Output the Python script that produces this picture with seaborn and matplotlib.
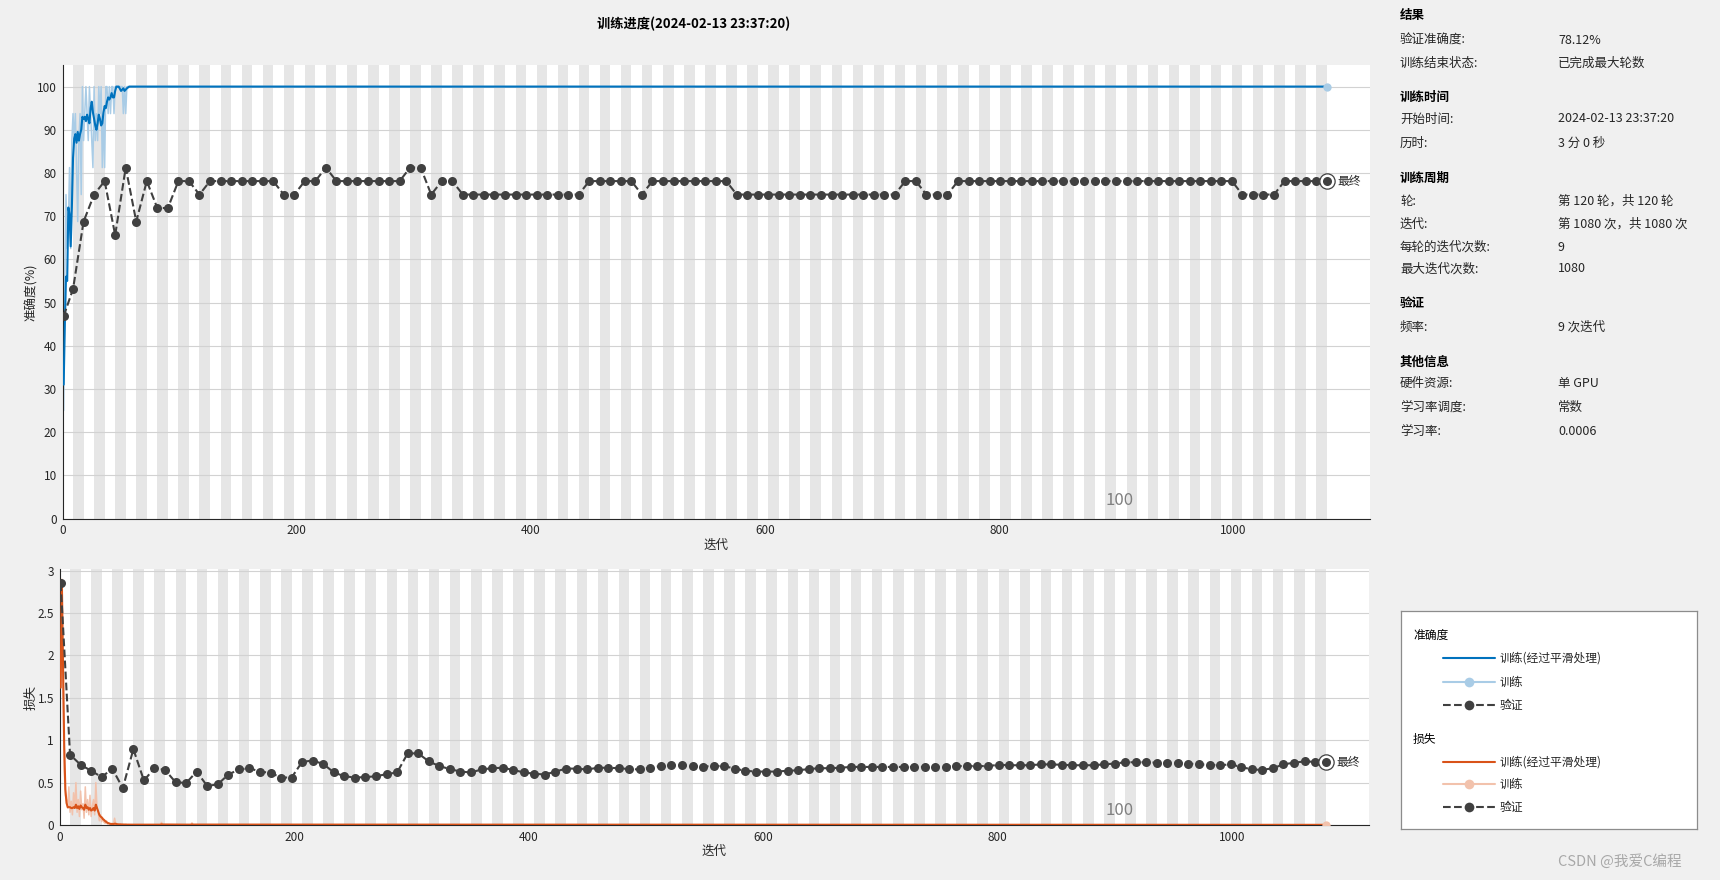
import numpy as np
import pandas as pd
import matplotlib
matplotlib.use('Agg')
import matplotlib.pyplot as plt
import seaborn as sns

# ---- data ----
iters_per_epoch = 9
n_epochs = 120

# training accuracy (%), iterations 1..64, then the flat tail end point
acc_iter = list(range(1, 65)) + [1080]
acc_raw = [25.0, 56.25, 75.0, 62.5, 68.75, 81.25, 62.5, 87.5, 93.75, 87.5,
           93.75, 81.25, 68.75, 87.5, 93.75, 75.0, 100.0, 87.5, 93.75, 100.0,
           93.75, 87.5, 100.0, 93.75, 87.5, 81.25, 100.0, 87.5, 93.75, 87.5,
           100.0, 93.75, 100.0, 81.25, 93.75, 81.25, 100.0, 100.0, 93.75, 100.0,
           93.75, 100.0, 100.0, 93.75, 100.0, 100.0, 100.0, 100.0, 100.0, 100.0,
           100.0, 93.75, 100.0, 93.75, 100.0, 100.0, 100.0, 100.0, 100.0, 100.0,
           100.0, 100.0, 100.0, 100.0, 100.0]
acc_smooth = [31.0, 45.0, 56.0, 55.0, 72.0, 70.5, 63.0, 72.0, 83.5, 88.0,
              89.0, 87.0, 89.5, 87.5, 89.0, 90.0, 93.0, 92.5, 93.0, 92.0,
              93.5, 92.5, 91.5, 95.0, 96.5, 94.0, 92.5, 91.0, 90.0, 91.5,
              93.5, 92.5, 91.0, 91.5, 94.0, 95.5, 95.0, 96.5, 97.5, 97.0,
              97.5, 98.5, 97.5, 97.5, 99.0, 100.0, 100.0, 100.0, 99.5, 99.0,
              99.3, 99.6, 99.0, 99.3, 99.6, 99.8, 100.0, 100.0, 100.0, 100.0,
              100.0, 100.0, 100.0, 100.0, 100.0]

# training loss, iterations 1..64, a few small spikes, then the end point
loss_iter = list(range(1, 65)) + [86, 87, 88, 112, 113, 114, 1080]
loss_raw = [1.62, 2.9, 1.6, 0.65, 0.35, 0.3, 0.2, 0.45, 0.15, 0.28,
            0.12, 0.38, 0.2, 0.5, 0.15, 0.3, 0.1, 0.4, 0.18, 0.25,
            0.08, 0.45, 0.15, 0.3, 0.12, 0.35, 0.1, 0.22, 0.3, 0.12,
            0.5, 0.2, 0.15, 0.05, 0.12, 0.04, 0.08, 0.03, 0.02, 0.05,
            0.01, 0.02, 0.01, 0.01, 0.02, 0.005, 0.08, 0.01, 0.005, 0.006,
            0.004, 0.01, 0.004, 0.005, 0.003, 0.006, 0.004, 0.003, 0.005, 0.003,
            0.004, 0.003, 0.003, 0.003,
            0.003, 0.03, 0.003, 0.003, 0.025, 0.003, 0.002]
loss_smooth = [1.62, 2.88, 1.9, 0.95, 0.42, 0.26, 0.21, 0.21, 0.21, 0.2,
               0.2, 0.21, 0.2, 0.24, 0.2, 0.22, 0.19, 0.23, 0.21, 0.2,
               0.18, 0.24, 0.2, 0.21, 0.18, 0.2, 0.17, 0.18, 0.2, 0.17,
               0.24, 0.2, 0.16, 0.12, 0.1, 0.09, 0.07, 0.06, 0.045, 0.035,
               0.025, 0.02, 0.015, 0.012, 0.012, 0.01, 0.015, 0.014, 0.01, 0.008,
               0.007, 0.007, 0.006, 0.006, 0.005, 0.005, 0.005, 0.004, 0.004, 0.004,
               0.004, 0.004, 0.004, 0.004,
               0.004, 0.008, 0.006, 0.004, 0.007, 0.005, 0.002]

# validation: at iteration 1 and every 9 iterations
val_iter = [1] + [iters_per_epoch * k for k in range(1, n_epochs + 1)]
val_acc = [46.88, 53.12, 68.75, 75.0, 78.12, 65.62, 81.25, 68.75, 78.12, 71.88,
           71.88, 78.12, 78.12, 75.0, 78.12, 78.12, 78.12, 78.12, 78.12, 78.12,
           78.12, 75.0, 75.0, 78.12, 78.12, 81.25, 78.12, 78.12, 78.12, 78.12,
           78.12, 78.12, 78.12, 81.25, 81.25, 75.0, 78.12, 78.12, 75.0, 75.0,
           75.0, 75.0, 75.0, 75.0, 75.0, 75.0, 75.0, 75.0, 75.0, 75.0,
           78.12, 78.12, 78.12, 78.12, 78.12, 75.0, 78.12, 78.12, 78.12, 78.12,
           78.12, 78.12, 78.12, 78.12, 75.0, 75.0, 75.0, 75.0, 75.0, 75.0,
           75.0, 75.0, 75.0, 75.0, 75.0, 75.0, 75.0, 75.0, 75.0, 75.0,
           78.12, 78.12, 75.0, 75.0, 75.0, 78.12, 78.12, 78.12, 78.12, 78.12,
           78.12, 78.12, 78.12, 78.12, 78.12, 78.12, 78.12, 78.12, 78.12, 78.12,
           78.12, 78.12, 78.12, 78.12, 78.12, 78.12, 78.12, 78.12, 78.12, 78.12,
           78.12, 78.12, 75.0, 75.0, 75.0, 75.0, 78.12, 78.12, 78.12, 78.12,
           78.12]
val_loss = [2.85, 0.83, 0.71, 0.64, 0.565, 0.665, 0.435, 0.895, 0.525, 0.67,
            0.65, 0.505, 0.495, 0.63, 0.46, 0.48, 0.595, 0.655, 0.67, 0.63,
            0.615, 0.56, 0.56, 0.745, 0.76, 0.72, 0.62, 0.575, 0.56, 0.565,
            0.575, 0.60, 0.62, 0.845, 0.845, 0.75, 0.695, 0.66, 0.63, 0.62,
            0.655, 0.67, 0.675, 0.65, 0.62, 0.605, 0.595, 0.63, 0.665, 0.665,
            0.655, 0.675, 0.675, 0.67, 0.66, 0.655, 0.675, 0.695, 0.705, 0.705,
            0.695, 0.69, 0.695, 0.695, 0.665, 0.64, 0.63, 0.63, 0.63, 0.64,
            0.645, 0.66, 0.67, 0.67, 0.675, 0.685, 0.685, 0.685, 0.685, 0.685,
            0.685, 0.685, 0.685, 0.685, 0.69, 0.695, 0.695, 0.695, 0.695, 0.71,
            0.705, 0.705, 0.705, 0.715, 0.715, 0.71, 0.705, 0.705, 0.705, 0.715,
            0.725, 0.74, 0.74, 0.74, 0.735, 0.735, 0.735, 0.725, 0.715, 0.71,
            0.705, 0.715, 0.685, 0.655, 0.65, 0.67, 0.715, 0.735, 0.75, 0.745,
            0.74]

info_rows = [
    ('结果', None),
    ('验证准确度:', '78.12%'),
    ('训练结束状态:', '已完成最大轮数'),
    ('训练时间', None),
    ('开始时间:', '2024-02-13 23:37:20'),
    ('历时:', '3 分 0 秒'),
    ('训练周期', None),
    ('轮:', '第 120 轮，共 120 轮'),
    ('迭代:', '第 1080 次，共 1080 次'),
    ('每轮的迭代次数:', '9'),
    ('最大迭代次数:', '1080'),
    ('验证', None),
    ('频率:', '9 次迭代'),
    ('其他信息', None),
    ('硬件资源:', '单 GPU'),
    ('学习率调度:', '常数'),
    ('学习率:', '0.0006'),
]
info_y = [16, 40, 63, 97, 119, 143, 178, 201, 224, 247, 269, 303, 327, 362, 384, 407, 431]

# ---- style ----
sns.set_style('white')
plt.rcParams['font.family'] = ['Noto Sans CJK SC', 'DejaVu Sans']
plt.rcParams['axes.unicode_minus'] = False

C_ACC = '#0072BD'
C_ACC_RAW = '#A9CCE6'
C_LOSS = '#D95319'
C_LOSS_RAW = '#F2C2AC'
C_VAL = '#404040'
C_TXT = '#262626'

W, H = 1720, 880
fig = plt.figure(figsize=(17.2, 8.8), dpi=100, facecolor='#F0F0F0')

ax1 = fig.add_axes([62.5 / W, 1 - 518.5 / H, 1307.5 / W, 453.5 / H])
ax2 = fig.add_axes([59.5 / W, 1 - 825 / H, 1309.5 / W, 256 / H])


def style_axes(ax, ylim, yticks, yticklabels):
    ax.set_facecolor('white')
    for k in range(2, n_epochs + 1, 2):
        ax.axvspan((k - 1) * iters_per_epoch, k * iters_per_epoch,
                   color='#E6E6E6', lw=0, zorder=0)
    ax.set_xlim(0, 1117)
    ax.set_ylim(*ylim)
    ax.set_xticks(range(0, 1001, 200))
    ax.set_yticks(yticks)
    ax.set_yticklabels(yticklabels)
    ax.set_axisbelow(True)
    ax.yaxis.grid(True, color='#D2D2D2', linewidth=0.8)
    ax.xaxis.grid(False)
    for s in ['top', 'right']:
        ax.spines[s].set_visible(False)
    for s in ['left', 'bottom']:
        ax.spines[s].set_color(C_TXT)
        ax.spines[s].set_linewidth(0.8)
    ax.tick_params(direction='in', length=9, width=0.8, color=C_TXT,
                   labelsize=8.5, labelcolor=C_TXT, pad=4)


style_axes(ax1, (0, 105), range(0, 101, 10), [str(v) for v in range(0, 101, 10)])
style_axes(ax2, (0, 3.02), [0, 0.5, 1, 1.5, 2, 2.5, 3],
           ['0', '0.5', '1', '1.5', '2', '2.5', '3'])

acc_df = pd.DataFrame({'iter': acc_iter, 'raw': acc_raw, 'smooth': acc_smooth})
loss_df = pd.DataFrame({'iter': loss_iter, 'raw': loss_raw, 'smooth': loss_smooth})
val_df = pd.DataFrame({'iter': val_iter, 'acc': val_acc, 'loss': val_loss})

for ax, df, c_raw, c_sm, vcol in [(ax1, acc_df, C_ACC_RAW, C_ACC, 'acc'),
                                   (ax2, loss_df, C_LOSS_RAW, C_LOSS, 'loss')]:
    sns.lineplot(data=df, x='iter', y='raw', ax=ax, color=c_raw, lw=1.1,
                 estimator=None, sort=False, zorder=2)
    sns.lineplot(data=df, x='iter', y='smooth', ax=ax, color=c_sm, lw=1.5,
                 estimator=None, sort=False, zorder=3)
    last = df.iloc[-1]
    ax.plot(last['iter'], last['raw'], 'o', color=c_raw, ms=6, mew=0, zorder=3)
    sns.lineplot(data=val_df, x='iter', y=vcol, ax=ax, color=C_VAL, lw=1.5,
                 linestyle='--', marker='o', markersize=6.5, markeredgewidth=0,
                 estimator=None, sort=False, zorder=4)
    vlast = val_df.iloc[-1]
    ax.plot(vlast['iter'], vlast[vcol], 'o', ms=11, mfc='white', mec=C_VAL,
            mew=0.9, zorder=5)
    ax.plot(vlast['iter'], vlast[vcol], 'o', ms=6.5, color=C_VAL, mew=0, zorder=6)
    ax.text(1089, vlast[vcol], '最终', fontsize=8.5, color=C_TXT,
            ha='left', va='center')
    ax.set_xlabel('迭代', fontsize=9, color=C_TXT)
    ax.set_ylabel('')

ax1.text(903, 4.2, '100', fontsize=12, color='#808080', ha='center', va='center')
ax2.text(904, 0.17, '100', fontsize=12, color='#808080', ha='center', va='center')

ax1.set_ylabel('准确度(%)', fontsize=9, color=C_TXT)
ax2.set_ylabel('损失', fontsize=9, color=C_TXT)
ax1.yaxis.set_label_coords(-(62.5 - 38) / 1307.5, 0.5)
ax2.yaxis.set_label_coords(-(59.5 - 38) / 1309.5, 0.5)
ax1.xaxis.set_label_coords(0.5, -(539 - 518.5) / 453.5)
ax2.xaxis.set_label_coords(0.5, -(845 - 825) / 256)

fig.text(694 / W, 1 - 24 / H, '训练进度(2024-02-13 23:37:20)', fontsize=9.5,
         fontweight='bold', color='black', ha='center', va='center')

# ---- info panel ----
for (label, value), y in zip(info_rows, info_y):
    if value is None:
        fig.text(1400 / W, 1 - y / H, label, fontsize=9, fontweight='bold',
                 color='black', ha='left', va='center')
    else:
        fig.text(1400 / W, 1 - y / H, label, fontsize=9, color=C_TXT,
                 ha='left', va='center')
        fig.text(1558 / W, 1 - y / H, value, fontsize=9, color=C_TXT,
                 ha='left', va='center')

# ---- legend panel ----
lg = fig.add_axes([1401 / W, 1 - 829 / H, 296 / W, 218 / H])
lg.set_xlim(0, 296)
lg.set_ylim(218, 0)
lg.set_xticks([])
lg.set_yticks([])
lg.set_facecolor('white')
for s in lg.spines.values():
    s.set_color('#8C8C8C')
    s.set_linewidth(0.9)

legend_groups = [('准确度', 24, [(47, C_ACC), (71, C_ACC_RAW), (94, C_VAL)]),
                 ('损失', 128, [(151, C_LOSS), (173, C_LOSS_RAW), (196, C_VAL)])]
entry_labels = ['训练(经过平滑处理)', '训练', '验证']
for title, ty, rows in legend_groups:
    lg.text(12, ty, title, fontsize=8.5, color='black', va='center', ha='left')
    for i, ((ry, col), lab) in enumerate(zip(rows, entry_labels)):
        if i == 0:
            lg.plot([42, 94], [ry, ry], color=col, lw=1.5)
        elif i == 1:
            lg.plot([42, 94], [ry, ry], color=col, lw=1.5)
            lg.plot([68], [ry], 'o', color=col, ms=7, mew=0)
        else:
            lg.plot([42, 94], [ry, ry], color=col, lw=1.5, linestyle='--')
            lg.plot([68], [ry], 'o', color=col, ms=7, mew=0)
        lg.text(99, ry, lab, fontsize=8.5, color=C_TXT, va='center', ha='left')

fig.text(1620 / W, 1 - 861 / H, 'CSDN @我爱C编程', fontsize=10.5,
         color='#A8A8A8', ha='center', va='center')

fig.savefig('out.png', dpi=100, facecolor=fig.get_facecolor())
